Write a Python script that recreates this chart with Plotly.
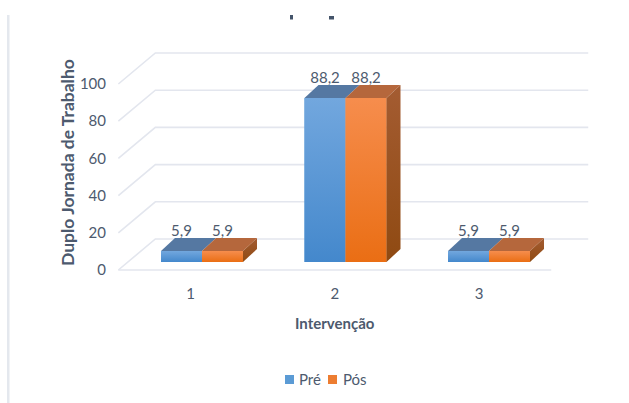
import plotly.graph_objects as go

# Survey values per intervention
categories = [1, 2, 3]
pre_values = [5.9, 88.2, 5.9]
pos_values = [5.9, 88.2, 5.9]
y_ticks = [0, 20, 40, 60, 80, 100]
series_names = ["Pré", "Pós"]

WIDTH, HEIGHT = 629, 403
LEFT, RIGHT, TOP, BOTTOM = 107, 600, 40, 283
PX_PER_CAT, PX_PER_VAL = 144.3, 1.86
BAR_PX_PER_CAT = 143.5

# Pixel anchors of the front floor plane and of the bar plane
FLOOR_X1, FLOOR_Y0 = 190.5, 270.0
BAR_X1, BAR_Y0 = 202.0, 262.0

# Oblique depth of the pseudo-3D box, in axis units
WALL_DX, WALL_DY = 37 / PX_PER_CAT, 31 / PX_PER_VAL
BAR_DX, BAR_DY = 14 / BAR_PX_PER_CAT, 13 / PX_PER_VAL
BAR_W = 41 / BAR_PX_PER_CAT

TEXT = "#4d5a6e"
GRID = "#e3e6ee"
FONT = "Lato"

STYLE = {
    "Pré": dict(solid="#5b9bd5", light="#72a7de", dark="#4488cc", top="#5578a2"),
    "Pós": dict(solid="#ed7d31", light="#f68d4d", dark="#ea6e14", top="#b5673c",
                side_light="#a45c32", side_dark="#8f4a12"),
}


def x_range(anchor, scale):
    return [1 - (anchor - LEFT) / scale, 1 + (RIGHT - anchor) / scale]


def y_range(anchor):
    return [-(BOTTOM - anchor) / PX_PER_VAL, (anchor - TOP) / PX_PER_VAL]


fig = go.Figure()

# Back wall gridlines with their oblique return to the front edge
wall_left = 0.5
wall_right = 3.5 + WALL_DX
for tick in y_ticks:
    fig.add_trace(go.Scatter(
        x=[wall_left, wall_left + WALL_DX, wall_right],
        y=[tick, tick + WALL_DY, tick + WALL_DY],
        mode="lines", line=dict(color=GRID, width=1.6),
        hoverinfo="skip", showlegend=False, cliponaxis=False,
    ))
fig.add_trace(go.Scatter(
    x=[0.5, 3.5], y=[0, 0], mode="lines", line=dict(color=GRID, width=1.6),
    hoverinfo="skip", showlegend=False, cliponaxis=False,
))

# Front faces of the columns
for name, values in zip(series_names, [pre_values, pos_values]):
    fig.add_trace(go.Bar(
        x=categories, y=values, name=name, xaxis="x2", yaxis="y2",
        marker=dict(color=STYLE[name]["solid"], line=dict(width=0)),
        showlegend=False,
    ))


def polygon(xs, ys, color=None, grad=None):
    """Filled face on the bar plane, flat or with a vertical gradient."""
    kw = dict(fillcolor=color) if color else dict(
        fillgradient=dict(type="vertical", colorscale=[[0, grad[1]], [1, grad[0]]]))
    fig.add_trace(go.Scatter(
        x=xs + xs[:1], y=ys + ys[:1], mode="lines", fill="toself",
        line=dict(width=0), hoverinfo="skip", showlegend=False,
        xaxis="x2", yaxis="y2", **kw,
    ))


# Gradient shading, top faces and the right-hand side face of each group
for i, cat in enumerate(categories):
    for side, name, values in [(-1, "Pré", pre_values), (0, "Pós", pos_values)]:
        style = STYLE[name]
        v = values[i]
        x0 = cat + side * BAR_W
        x1 = x0 + BAR_W
        polygon([x0, x1, x1, x0], [0, 0, v, v], grad=(style["light"], style["dark"]))
        polygon([x0, x1, x1 + BAR_DX, x0 + BAR_DX],
                [v, v, v + BAR_DY, v + BAR_DY], color=style["top"])
        if name == "Pós":
            polygon([x1, x1 + BAR_DX, x1 + BAR_DX, x1],
                    [0, BAR_DY, v + BAR_DY, v],
                    grad=(style["side_light"], style["side_dark"]))

# Value labels above each column
LABEL_DROP = 1.0
for side, values in [(-1, pre_values), (0, pos_values)]:
    fig.add_trace(go.Scatter(
        x=[c + (side + 0.5) * BAR_W for c in categories],
        y=[v + BAR_DY - LABEL_DROP for v in values],
        text=[f"{v:.1f}".replace(".", ",") for v in values],
        mode="text", textposition="top center",
        textfont=dict(family=FONT, size=15, color=TEXT),
        hoverinfo="skip", showlegend=False, cliponaxis=False,
        xaxis="x2", yaxis="y2",
    ))

hidden = dict(visible=False, fixedrange=True)
fig.update_layout(
    width=WIDTH, height=HEIGHT,
    margin=dict(l=LEFT, r=WIDTH - RIGHT, t=TOP, b=HEIGHT - BOTTOM),
    paper_bgcolor="white", plot_bgcolor="white",
    font=dict(family=FONT, color=TEXT, size=14),
    barmode="group", bargap=1 - 2 * BAR_W, bargroupgap=0,
    showlegend=False,
    xaxis=dict(range=x_range(FLOOR_X1, PX_PER_CAT), tickvals=categories, ticklen=0,
               showgrid=False, zeroline=False, showline=False,
               tickfont=dict(family=FONT, size=15, color=TEXT)),
    yaxis=dict(range=y_range(FLOOR_Y0), tickvals=y_ticks, ticklen=0,
               showgrid=False, zeroline=False, showline=False,
               tickfont=dict(family=FONT, size=15, color=TEXT)),
    xaxis2=dict(range=x_range(BAR_X1, BAR_PX_PER_CAT), overlaying="x", anchor="y2", **hidden),
    yaxis2=dict(range=y_range(BAR_Y0), overlaying="y", anchor="x2", **hidden),
)


def paper_x(px):
    return (px - LEFT) / (RIGHT - LEFT)


def paper_y(px):
    return (BOTTOM - px) / (BOTTOM - TOP)


def label(text, px, py, **kw):
    fig.add_annotation(text=text, xref="paper", yref="paper", x=paper_x(px), y=paper_y(py),
                       showarrow=False, xanchor=kw.pop("xanchor", "center"), yanchor="middle", **kw)


def paper_rect(x0, y0, x1, y1, color):
    fig.add_shape(type="rect", xref="paper", yref="paper",
                  x0=paper_x(x0), x1=paper_x(x1), y0=paper_y(y0), y1=paper_y(y1),
                  fillcolor=color, line=dict(width=0))


# Axis titles
label("<b>Duplo Jornada de Trabalho</b>", 67, 163, textangle=-90,
      font=dict(family=FONT, size=17.5, color=TEXT))
label("<b>Intervenção</b>", 335, 323, font=dict(family=FONT, size=15, color=TEXT))

# Legend row
paper_rect(285, 375, 294, 384, STYLE["Pré"]["solid"])
label("Pré", 297, 379, xanchor="left", font=dict(family=FONT, size=15, color=TEXT))
paper_rect(328, 375, 337, 384, STYLE["Pós"]["solid"])
label("Pós", 341, 379, xanchor="left", font=dict(family=FONT, size=15, color=TEXT))

# Left edge of the chart frame
paper_rect(7, 15, 9.5, HEIGHT, "#e4e8ee")

# Remnants of the heading's descenders at the top edge
paper_rect(290, 15, 293, 19.5, "#44546a")
paper_rect(329, 16, 334, 19.5, "#44546a")

fig.write_html("out.html")
